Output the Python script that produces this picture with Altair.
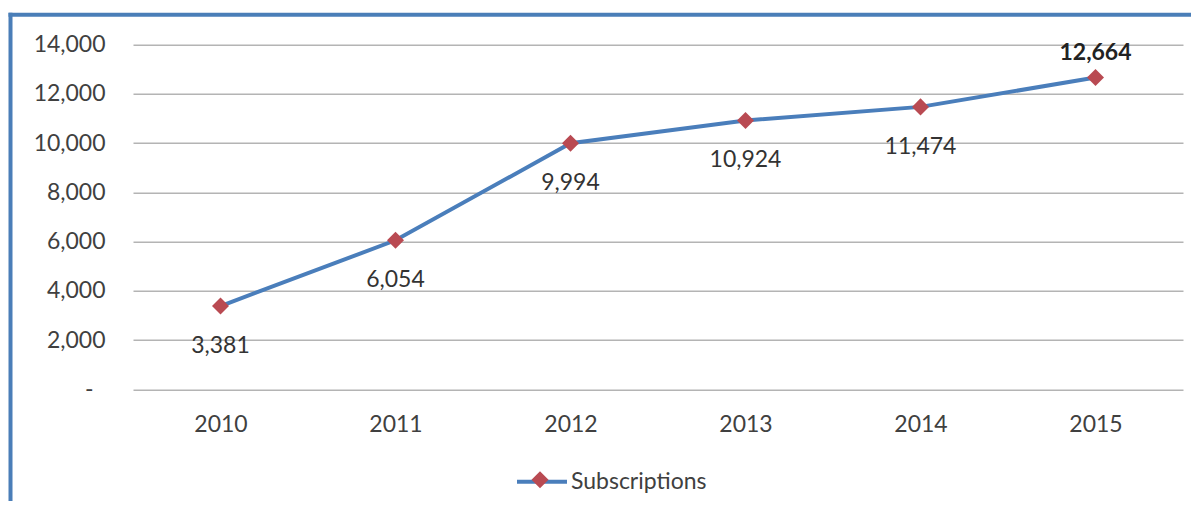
import altair as alt
import pandas as pd

years = ["2010", "2011", "2012", "2013", "2014", "2015"]
subscriptions = [3381, 6054, 9994, 10924, 11474, 12664]
series_name = "Subscriptions"
y_ticks = [0, 2000, 4000, 6000, 8000, 10000, 12000, 14000]

df = pd.DataFrame({"year": years, "value": subscriptions, "series": [series_name] * len(years)})
df["last"] = df["year"] == years[-1]

FONT = "Lato"
FS = 23
LINE_BLUE = "#4A7EBB"
MARK_RED = "#B94A52"
FRAME_BLUE = "#4A7EB8"

x_enc = alt.X("year:O", scale=alt.Scale(padding=0.5),
              axis=alt.Axis(title=None, labelAngle=0, ticks=False, domain=False, grid=False,
                            labelPadding=24, labelFontSize=FS, labelColor="#404040", labelFont=FONT))
y_enc = alt.Y("value:Q", scale=alt.Scale(domain=[0, 14000], nice=False),
              axis=alt.Axis(title=None, values=y_ticks, ticks=False, domain=False,
                            gridColor="#B4B4B4", gridWidth=1.5,
                            labelExpr="datum.value == 0 ? '-' : format(datum.value, ',')",
                            labelPadding={"condition": {"test": "datum.value == 0", "value": 40}, "value": 28},
                            labelFontSize=FS, labelColor="#404040", labelFont=FONT))

base = alt.Chart(df)

legend_common = dict(title=None, orient="none", legendX=382, legendY=410,
                     symbolSize=2500, labelFontSize=FS, labelFont=FONT, labelOffset=2)

line = base.mark_line(strokeWidth=4).encode(
    x=x_enc, y=y_enc,
    stroke=alt.Stroke("series:N", scale=alt.Scale(range=[LINE_BLUE]),
                      legend=alt.Legend(symbolType="M-1,0L1,0", symbolStrokeWidth=4,
                                        labelColor="#404040", **legend_common)),
)

points = base.mark_point(filled=True, shape="diamond", size=290, opacity=1).encode(
    x="year:O", y="value:Q",
    fill=alt.Fill("series:N", scale=alt.Scale(range=[MARK_RED]),
                  legend=alt.Legend(symbolType="M0,-0.34L0.34,0L0,0.34L-0.34,0Z",
                                    symbolStrokeWidth=0, symbolOpacity=1,
                                    labelExpr="''", labelColor="transparent", **legend_common)),
)

labels_below = base.transform_filter("!datum.last").mark_text(
    dy=40, fontSize=FS, font=FONT, color="#333333", baseline="middle"
).encode(x="year:O", y="value:Q", text=alt.Text("value:Q", format=","))

labels_above = base.transform_filter("datum.last").mark_text(
    dy=-25, fontSize=FS, font=FONT, fontWeight="bold", color="#222222", baseline="middle"
).encode(x="year:O", y="value:Q", text=alt.Text("value:Q", format=","))

frame_data = alt.Data(values=[{"k": 1}])
left_border = alt.Chart(frame_data).mark_rule(color=FRAME_BLUE, strokeWidth=4).encode(
    x=alt.value(-122.5), y=alt.value(-32), y2=alt.value(470))
top_border = alt.Chart(frame_data).mark_rule(color=FRAME_BLUE, strokeWidth=4).encode(
    x=alt.value(-124.5), x2=alt.value(1070), y=alt.value(-30))

chart = alt.layer(line, points, labels_below, labels_above, left_border, top_border).resolve_legend(
    stroke="independent", fill="independent"
).properties(
    width=1050, height=344.6,
    autosize=alt.AutoSizeParams(type="none"),
    padding={"left": 125, "top": 36.7, "right": 8, "bottom": 112},
    background="white",
).configure_view(stroke=None)

chart.save("out.html", embed_options={"renderer": "svg", "actions": False})
